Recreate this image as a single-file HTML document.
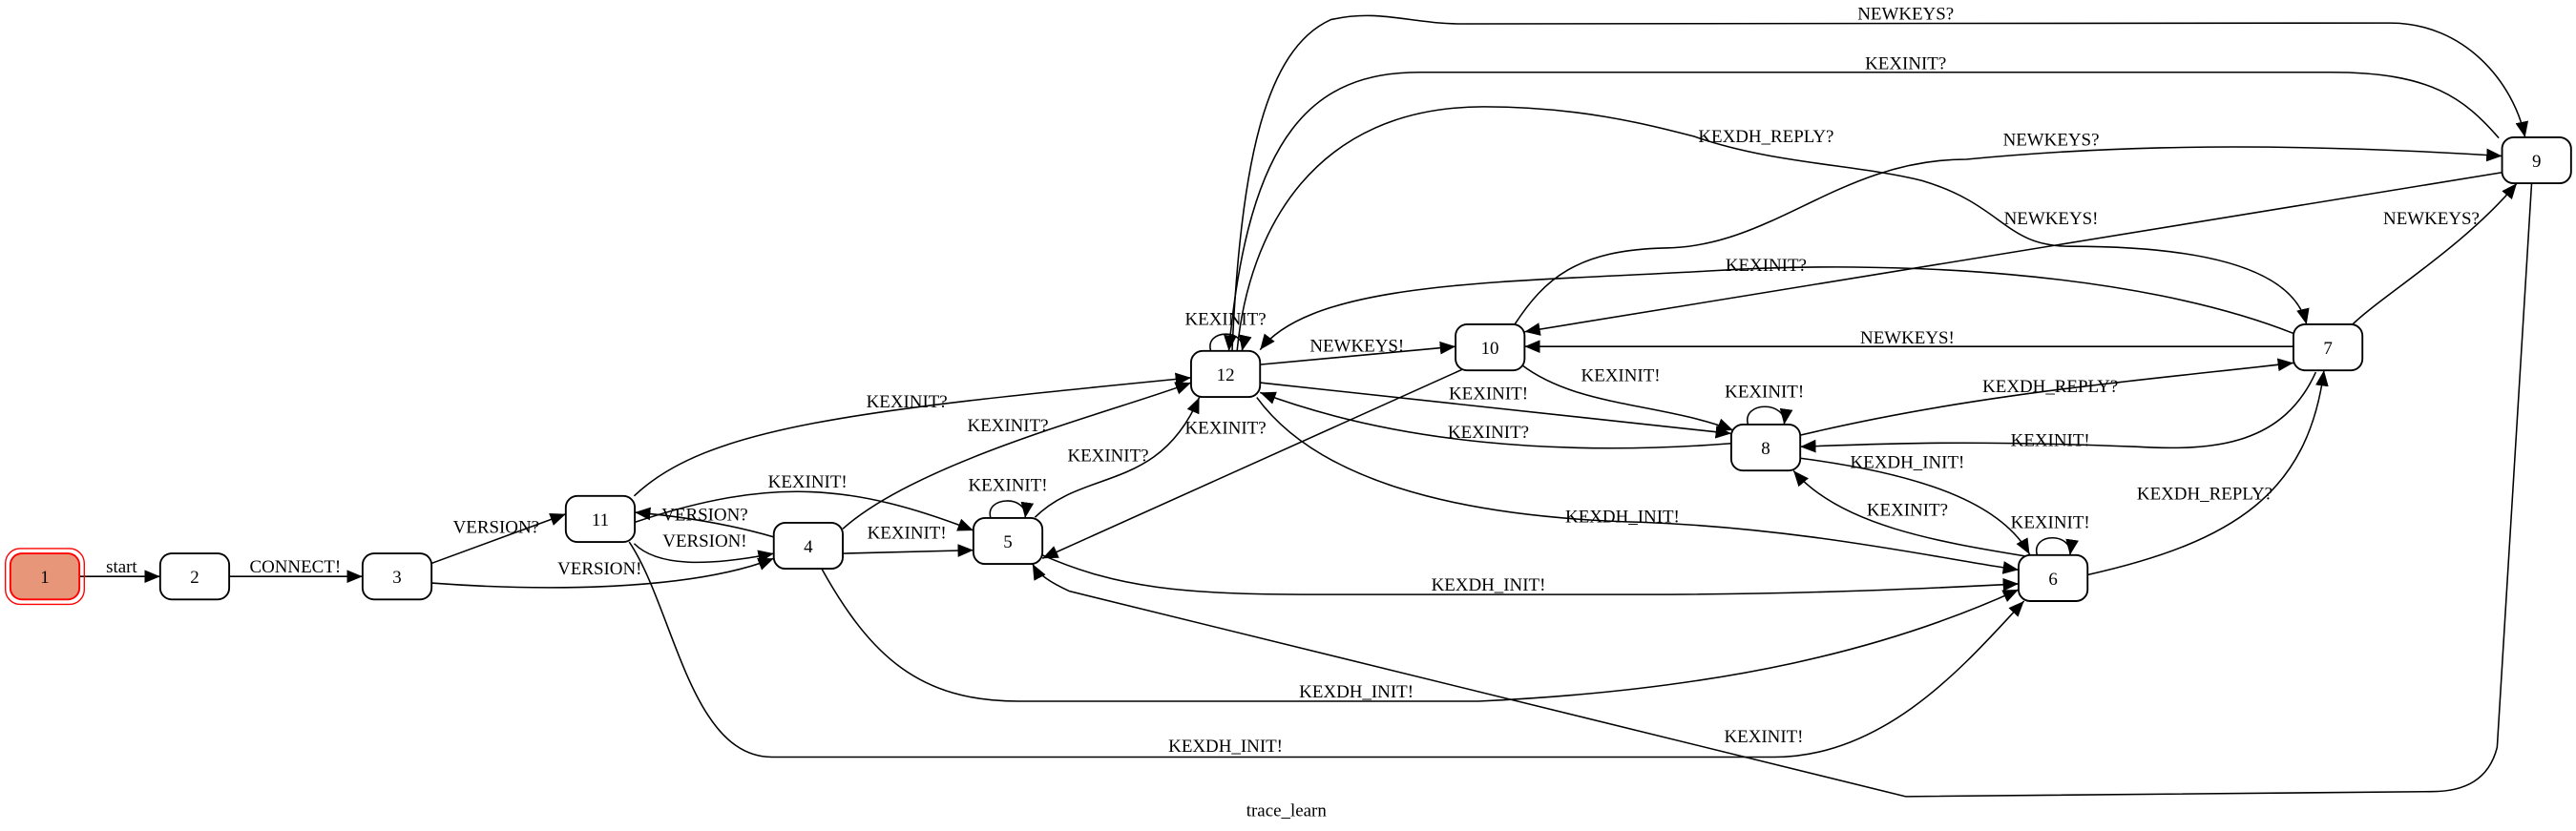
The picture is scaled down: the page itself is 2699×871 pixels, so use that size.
<!DOCTYPE html>
<html><head><meta charset="utf-8"><style>
html,body{margin:0;padding:0;background:#fff;}
svg{display:block;}
text{font-family:"Liberation Serif",serif;font-size:11px;fill:#000;}
</style></head><body>
<svg width="2699" height="871" viewBox="0 0 1568 506" xmlns="http://www.w3.org/2000/svg">
<defs>
<marker id="a" viewBox="0 0 10 10" refX="10" refY="5" markerWidth="9.5" markerHeight="9.5" markerUnits="userSpaceOnUse" orient="auto">
<path d="M0,0.8 L10,5 L0,9.2 z" fill="#000"/></marker>
</defs>
<rect width="1568" height="506" fill="#fff"/>
<g fill="none" stroke="#000" stroke-width="0.9" marker-end="url(#a)">
<path d="M48.3,351 L97.5,351"/>
<path d="M139.5,351 L220.7,351"/>
<path d="M262.7,343 L344.4,313"/>
<path d="M262.7,355 C330,360 420,360 471,340"/>
<path d="M386,331 C400,345 430,345 471,337"/>
<path d="M471,327 C440,318 410,314 386.4,312"/>
<path d="M386,302 C430,260 520,250 725,230"/>
<path d="M386.4,318 C470,290 520,295 592.5,323"/>
<path d="M513,337 L592.5,335"/>
<path d="M513,322 C560,280 680,250 725,233"/>
<path d="M630,315 C660,285 705,300 730,242"/>
<path d="M603,315.4 C599,302 626,301 624,315.4"/>
<path d="M737,213.7 C733,200 759,200 756,213.7"/>
<path d="M767,222 L886,211"/>
<path d="M767,233 L1053.8,264"/>
<path d="M1053.8,270 C950,278 850,270 767,239"/>
<path d="M890,225 L634.5,340"/>
<path d="M926,222 C960,248 1010,245 1055,262"/>
<path d="M1064,258.5 C1060,244 1088,244 1086,258.5"/>
<path d="M765,242 C800,290 880,315 1000,318 C1100,322 1180,340 1228.7,347"/>
<path d="M634.5,338 C680,358 720,362 800,362 L1000,362 C1100,362 1180,358 1228.7,355.5"/>
<path d="M500,346 C530,400 560,427 620,427 L900,427 C1050,420 1150,395 1228.7,359"/>
<path d="M383,330 C410,370 420,461 470,461 L1080,461 C1150,461 1200,400 1232,366"/>
<path d="M1240,338 C1236,324 1262,324 1260,338"/>
<path d="M1235,339 C1180,330 1120,320 1091.7,286.6"/>
<path d="M1095.8,279 C1180,290 1220,310 1235.4,337.5"/>
<path d="M1270.7,350 C1360,330 1405,300 1414.6,225.5"/>
<path d="M1095.8,265 C1200,240 1300,232 1396,221"/>
<path d="M1409.6,226.6 C1390,270 1350,275 1300,272 C1200,268 1150,270 1095.8,272"/>
<path d="M1396,211 L928,211"/>
<path d="M1396,203 C1300,165 1150,158 1040,165 C920,172 800,170 767,213"/>
<path d="M1432,197.5 C1450,180 1500,150 1532,111.6"/>
<path d="M1523,105 L928,202"/>
<path d="M922,197.5 C940,170 960,152 1014,151 C1080,150 1120,97 1197,97 C1250,92 1350,84 1523,95"/>
<path d="M1541,111.6 L1520,455 C1515,475 1500,482 1480,482 L1160,485 L651,360 C640,355 632,350 628.5,343.4"/>
<path d="M750,213.7 C755,100 770,30 810,12 C840,5 860,15 892,14.5 L1455,14 C1500,14 1530,50 1537,83.6"/>
<path d="M1521,84 C1500,60 1480,44 1419,44 L864,44 C800,44 760,80 748,213.7"/>
<path d="M753,213.7 C760,140 800,65 903,65 C960,65 1000,75 1031,83 C1080,100 1130,100 1170,110 C1220,125 1220,150 1260,150 C1330,150 1395,160 1404,197.5"/>
</g>
<g stroke="#000" stroke-width="1.1" fill="#fff">
<rect x="3.3" y="334" width="48" height="34" rx="9" fill="none" stroke="#f00" stroke-width="0.8"/>
<rect x="6.3" y="337" width="42" height="28" rx="7" fill="#e8967a" stroke="#f00"/>
<rect x="97.5" y="337" width="42" height="28" rx="7"/>
<rect x="220.7" y="337" width="42" height="28" rx="7"/>
<rect x="344.4" y="302" width="42" height="28" rx="7"/>
<rect x="471" y="318.3" width="42" height="28" rx="7"/>
<rect x="592.5" y="315.4" width="42" height="28" rx="7"/>
<rect x="725" y="213.7" width="42" height="28" rx="7"/>
<rect x="886" y="197.5" width="42" height="28" rx="7"/>
<rect x="1053.8" y="258.5" width="42" height="28" rx="7"/>
<rect x="1523" y="83.6" width="42" height="28" rx="7"/>
<rect x="1396" y="197.5" width="42" height="28" rx="7"/>
<rect x="1228.7" y="338" width="42" height="28" rx="7"/>
</g>
<g text-anchor="middle">
<text x="27.3" y="355">1</text>
<text x="118.5" y="355">2</text>
<text x="241.7" y="355">3</text>
<text x="365.4" y="320">11</text>
<text x="492" y="336.3">4</text>
<text x="613.5" y="333.4">5</text>
<text x="746" y="231.7">12</text>
<text x="906.9" y="215.5">10</text>
<text x="1074.8" y="276.5">8</text>
<text x="1544" y="101.6">9</text>
<text x="1417" y="215.5">7</text>
<text x="1249.7" y="356">6</text>

<text x="74" y="348.6">start</text>
<text x="179.7" y="348.6">CONNECT!</text>
<text x="302" y="324.6">VERSION?</text>
<text x="365" y="349.7">VERSION!</text>
<text x="429" y="317">VERSION?</text>
<text x="429" y="333">VERSION!</text>
<text x="552" y="248">KEXINIT?</text>
<text x="491.6" y="297">KEXINIT!</text>
<text x="552" y="328">KEXINIT!</text>
<text x="613.5" y="262.6">KEXINIT?</text>
<text x="674.5" y="281">KEXINIT?</text>
<text x="613.5" y="299">KEXINIT!</text>
<text x="746" y="197.7">KEXINIT?</text>
<text x="826" y="214">NEWKEYS!</text>
<text x="906" y="243">KEXINIT!</text>
<text x="906" y="266.6">KEXINIT?</text>
<text x="746" y="264">KEXINIT?</text>
<text x="986.5" y="232">KEXINIT!</text>
<text x="1074" y="242">KEXINIT!</text>
<text x="987.6" y="318">KEXDH_INIT!</text>
<text x="906" y="359.6">KEXDH_INIT!</text>
<text x="825.6" y="424.6">KEXDH_INIT!</text>
<text x="746" y="457.8">KEXDH_INIT!</text>
<text x="1073.6" y="452">KEXINIT!</text>
<text x="1248" y="321.6">KEXINIT!</text>
<text x="1161" y="314">KEXINIT?</text>
<text x="1161" y="285">KEXDH_INIT!</text>
<text x="1342" y="304">KEXDH_REPLY?</text>
<text x="1248" y="238.7">KEXDH_REPLY?</text>
<text x="1248" y="271.6">KEXINIT!</text>
<text x="1161" y="209">NEWKEYS!</text>
<text x="1075" y="165">KEXINIT?</text>
<text x="1480" y="136.6">NEWKEYS?</text>
<text x="1248.5" y="136.6">NEWKEYS!</text>
<text x="1248.5" y="88.6">NEWKEYS?</text>
<text x="1075" y="86.5">KEXDH_REPLY?</text>
<text x="1160" y="12">NEWKEYS?</text>
<text x="1160" y="42">KEXINIT?</text>
<text x="783" y="497">trace_learn</text>
</g>
</svg>
</body></html>
